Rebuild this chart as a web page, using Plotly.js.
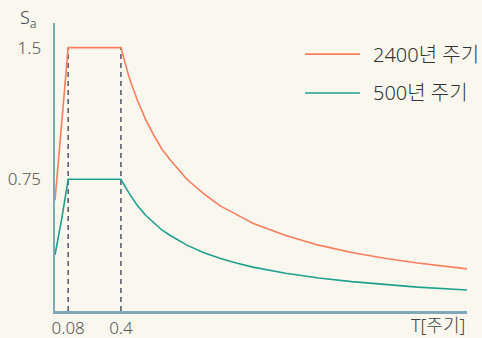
<!DOCTYPE html>
<html><head><meta charset="utf-8">
<script src="https://cdn.plot.ly/plotly-3.0.1.min.js"></script>
<style>html,body{margin:0;padding:0;background:#faf7ef;}</style>
</head><body><div id="chart" style="width:482px;height:338px;"></div>
<script>
const periodT = [0, 0.04, 0.08, 0.4, 0.45, 0.5, 0.55, 0.6, 0.65, 0.7, 0.8, 0.9, 1.0, 1.1, 1.2, 1.4, 1.6, 1.8, 2.0, 2.2, 2.5];
const sa2400 = [0.63, 1.07, 1.5, 1.5, 1.33, 1.2, 1.09, 1.0, 0.92, 0.86, 0.75, 0.67, 0.6, 0.55, 0.5, 0.43, 0.375, 0.333, 0.3, 0.273, 0.24];
const sa500 = [0.32, 0.52, 0.75, 0.75, 0.67, 0.6, 0.545, 0.5, 0.46, 0.43, 0.375, 0.333, 0.3, 0.273, 0.25, 0.215, 0.188, 0.167, 0.15, 0.136, 0.12];
const seriesNames = ['2400년 주기', '500년 주기'];
const seriesColors = ['#fa7d5c', '#1fa08e'];
const markT = [0.08, 0.4];
const markSa = [0, 1.5];
const yTickVals = [0.75, 1.5];
const yTickText = ['0.75', '1.5'];
const xTickVals = [0.08, 0.4];
const xTickText = ['0.08', '0.4'];

const font = "'Noto Sans', 'Noto Sans CJK KR', sans-serif";
const traces = [];
markT.forEach(t => traces.push({
  x: [t, t], y: markSa, mode: 'lines', showlegend: false, hoverinfo: 'skip',
  line: {color: '#5a6070', width: 1.6, dash: '5px,4px'}
}));
[sa2400, sa500].forEach((s, i) => traces.push({
  x: periodT, y: s, name: seriesNames[i], mode: 'lines', showlegend: false,
  line: {color: seriesColors[i], width: 1.6}
}));

// manual legend (paper coordinates)
const legY = [0.892, 0.757];
const shapes = [], annotations = [];
seriesNames.forEach((n, i) => {
  shapes.push({type: 'line', xref: 'paper', yref: 'paper', x0: 0.607, x1: 0.740,
    y0: legY[i], y1: legY[i], line: {color: seriesColors[i], width: 1.6}});
  annotations.push({xref: 'paper', yref: 'paper', x: 0.768, y: legY[i], xanchor: 'left',
    yanchor: 'middle', text: n, showarrow: false, font: {size: 20, color: '#333333'}});
});
annotations.push(
  {xref: 'paper', yref: 'paper', x: -0.09, y: 1.017, xanchor: 'left', yanchor: 'middle',
   text: 'S<sub>a</sub>', showarrow: false, font: {size: 18, color: '#444444'}},
  {xref: 'paper', yref: 'paper', x: 1.0, y: -0.049, xanchor: 'right', yanchor: 'middle',
   text: 'T[주기]', showarrow: false, font: {size: 18, color: '#444444'}}
);

const layout = {
  width: 482, height: 338,
  paper_bgcolor: '#faf7ef', plot_bgcolor: '#faf7ef',
  margin: {l: 55, r: 15, t: 23, b: 27},
  font: {family: font, size: 17, color: '#555555', weight: 300},
  xaxis: {range: [0, 2.5], showgrid: false, zeroline: false, showline: true,
    linecolor: '#7fa7b6', linewidth: 2.5, tickvals: xTickVals, ticktext: xTickText,
    ticks: '', tickfont: {size: 17, color: '#555555'}, fixedrange: true},
  yaxis: {range: [0, 1.64], showgrid: false, zeroline: false, showline: true,
    linecolor: '#7fa7b6', linewidth: 2.5, tickvals: yTickVals, ticktext: yTickText,
    ticks: '', tickfont: {size: 17, color: '#555555'}, ticklabelstandoff: 8, fixedrange: true},
  shapes: shapes,
  annotations: annotations,
  showlegend: false
};
Plotly.newPlot('chart', traces, layout, {displayModeBar: false, staticPlot: true});
</script></body></html>
